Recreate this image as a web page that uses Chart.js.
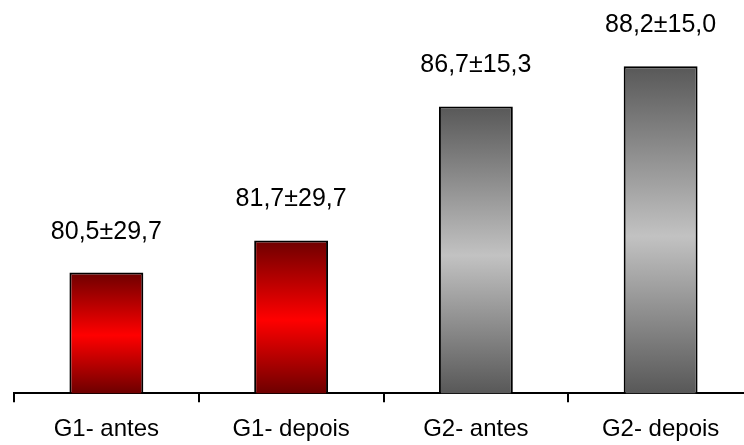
<!DOCTYPE html>
<html>
<head>
<meta charset="utf-8">
<script src="https://cdn.jsdelivr.net/npm/chart.js@4/dist/chart.umd.min.js"></script>
<style>
  html,body{margin:0;padding:0;background:#fff;overflow:hidden;}
  #wrap{width:760px;height:445px;overflow:hidden;}
</style>
</head>
<body>
<div id="wrap"><canvas id="c" width="760" height="457"></canvas></div>
<script>
'use strict';

const groups = ['G1- antes','G1- depois','G2- antes','G2- depois'];
const means  = [80.5, 81.7, 86.7, 88.2];
const sds    = [29.7, 29.7, 15.3, 15.0];
const tones  = ['red','red','grey','grey'];

const Y_MIN = 76, Y_MAX = 90;
const FONT = '"Liberation Sans", Arial, sans-serif';

const fmt = v => v.toFixed(1).replace('.', ',');

// vertical shading: dark at the ends, bright in the middle
const shade = {
  red:  ['#6e0000','#ff0000','#6e0000'],
  grey: ['#585858','#c2c2c2','#585858']
};

function barFill(ctx) {
  const chart = ctx.chart, i = ctx.dataIndex;
  const ys = chart.scales.y;
  const stops = shade[tones[i]];
  if (!ys || !chart.chartArea) return stops[1];
  const top = ys.getPixelForValue(means[i]), bot = ys.getPixelForValue(Y_MIN);
  const g = chart.ctx.createLinearGradient(0, top, 0, bot);
  g.addColorStop(0, stops[0]);
  g.addColorStop(0.52, stops[1]);
  g.addColorStop(1, stops[2]);
  return g;
}

const valueLabels = {
  id: 'valueLabels',
  afterDatasetsDraw(chart) {
    const c = chart.ctx, meta = chart.getDatasetMeta(0);
    c.save();
    c.fillStyle = '#000';
    c.font = '25px ' + FONT;
    c.textAlign = 'center';
    c.textBaseline = 'alphabetic';
    meta.data.forEach((bar, i) => {
      c.fillText(fmt(means[i]) + '±' + fmt(sds[i]), bar.x, bar.y - 34);
    });
    c.restore();
  }
};

new Chart(document.getElementById('c'), {
  type: 'bar',
  data: {
    labels: groups,
    datasets: [{
      data: means,
      backgroundColor: barFill,
      borderColor: '#000',
      borderWidth: 2,
      barPercentage: 0.4,
      categoryPercentage: 1
    }]
  },
  options: {
    responsive: false,
    animation: false,
    layout: { padding: { left: 14, right: 7, top: 18, bottom: 0 } },
    plugins: { legend: { display: false }, tooltip: { enabled: false } },
    scales: {
      x: {
        grid: { display: true, offset: true, drawOnChartArea: false, drawTicks: true, tickLength: 9, color: '#000', lineWidth: 2 },
        border: { display: true, color: '#000', width: 2 },
        ticks: { color: '#000', font: { family: FONT, size: 24 }, padding: 13, maxRotation: 0 }
      },
      y: { display: false, min: Y_MIN, max: Y_MAX }
    }
  },
  plugins: [valueLabels]
});
</script>
</body>
</html>
